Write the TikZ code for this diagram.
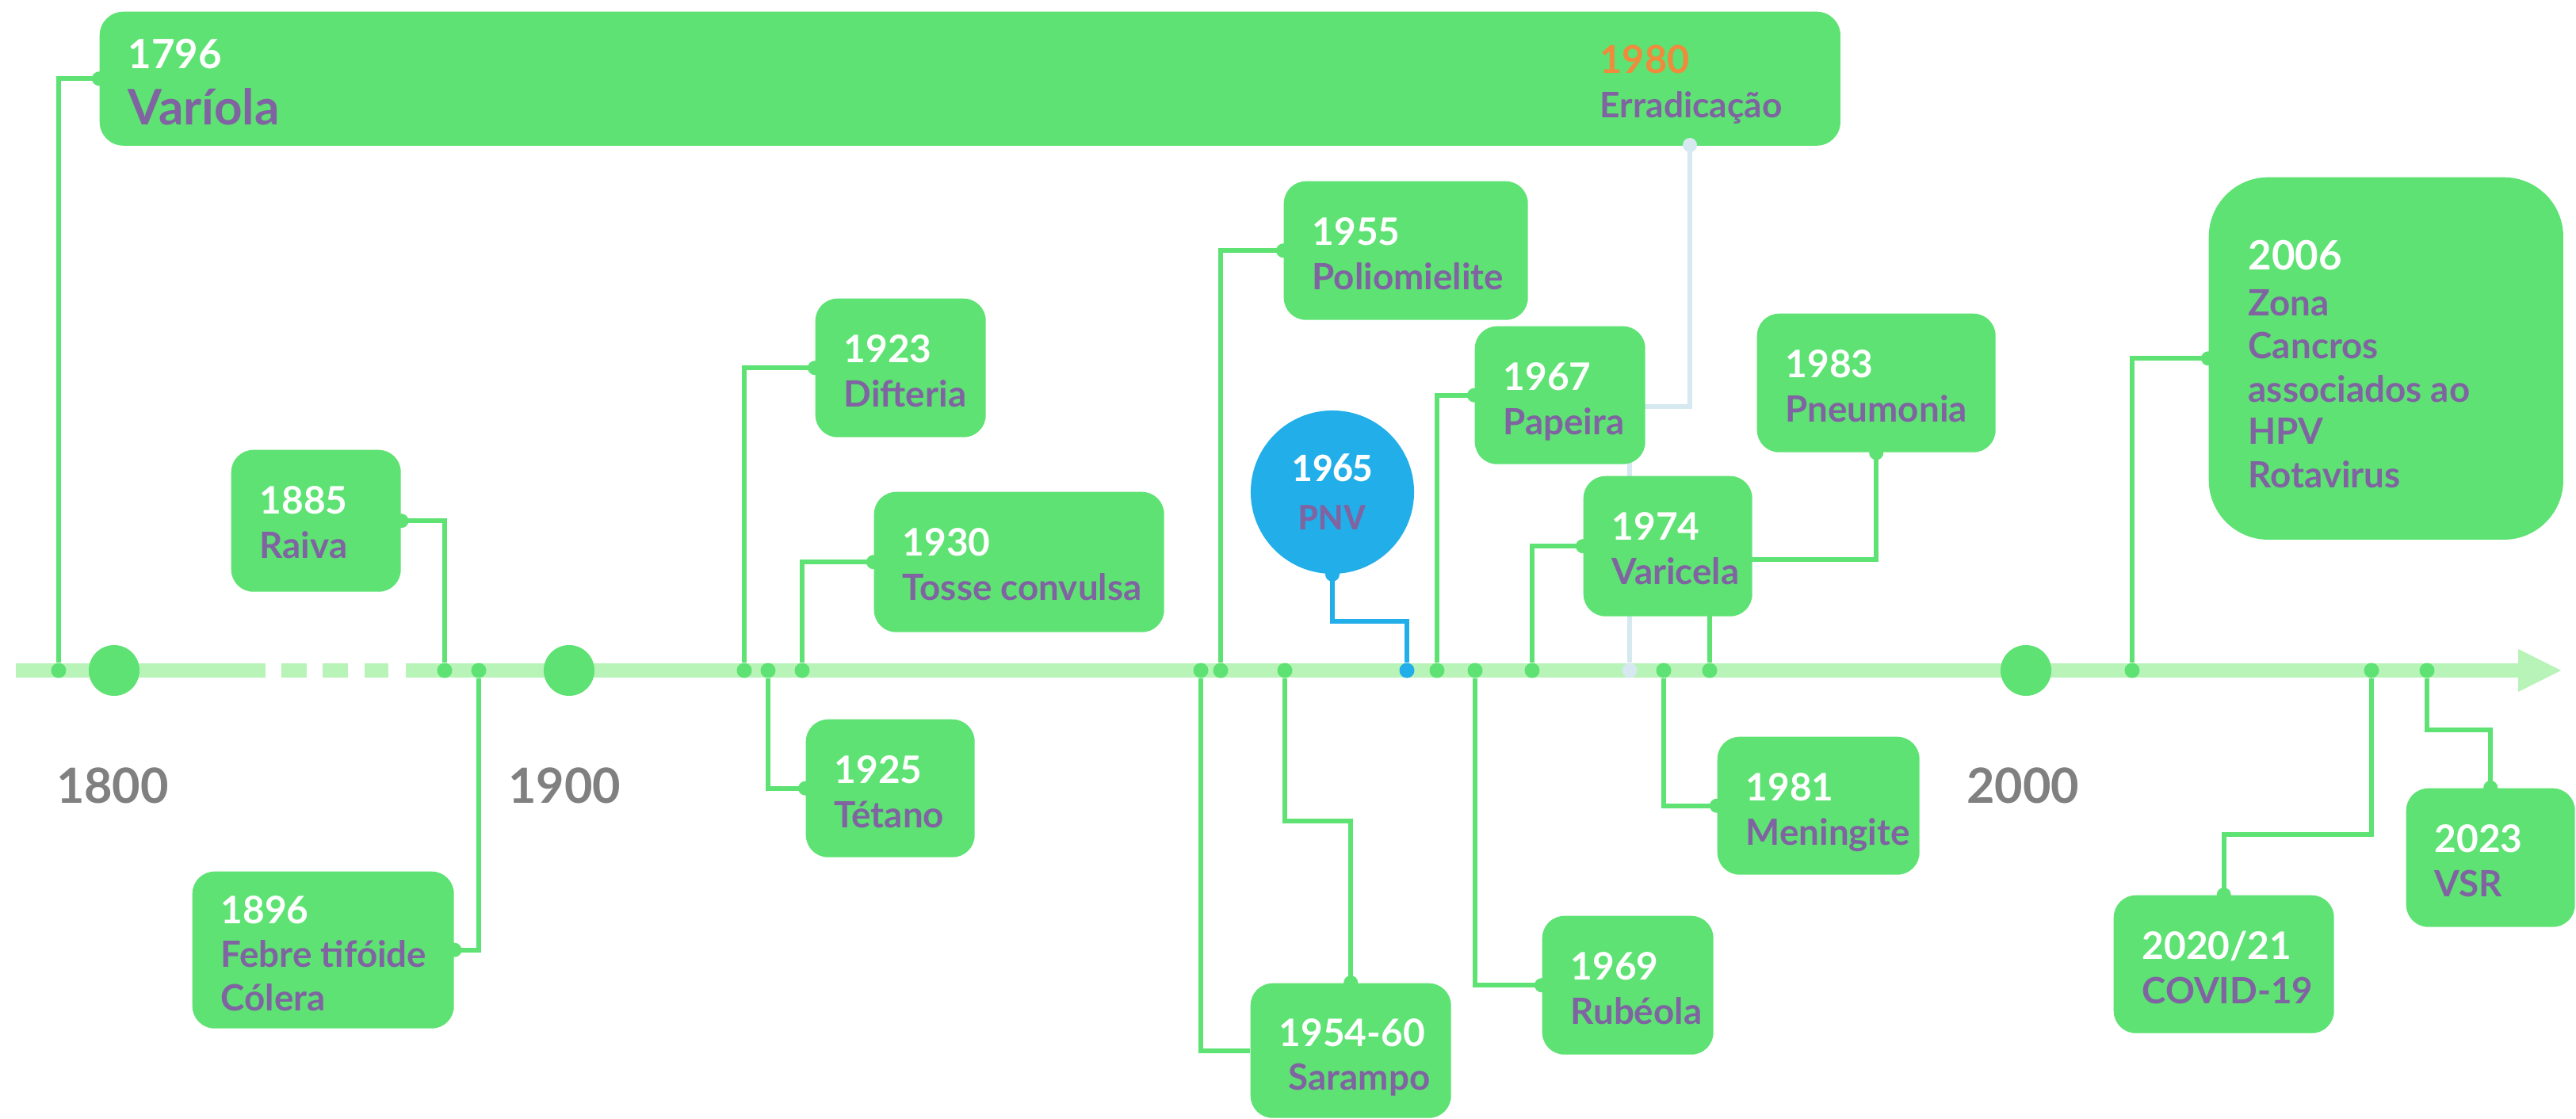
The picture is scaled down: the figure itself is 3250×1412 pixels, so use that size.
\documentclass[tikz,border=0pt]{standalone}
\usepackage{fontspec}
\setmainfont{Lato}
\newfontfamily\carl{Carlito}
\usetikzlibrary{calc}
\definecolor{boxg}{RGB}{94,226,115}
\definecolor{axisg}{RGB}{184,243,184}
\definecolor{purp}{RGB}{128,100,162}
\definecolor{orng}{RGB}{240,138,60}
\definecolor{pnvblue}{RGB}{34,174,232}
\definecolor{lblue}{RGB}{214,232,240}
\definecolor{grayl}{RGB}{128,128,128}
\pgfdeclarelayer{bg}
\pgfdeclarelayer{lines}
\pgfsetlayers{bg,lines,main}
\tikzset{
  evbox/.style={fill=boxg, rounded corners=0.28cm, inner sep=0, draw=none},
  yr/.style={text=white, font=\fontsize{13.6}{16}\selectfont\bfseries, inner sep=0, anchor=base west},
  nm/.style={text=purp, font=\fontsize{13}{15.4}\selectfont\bfseries, inner sep=0, anchor=base west},
  conn/.style={draw=boxg, line width=0.06cm},
  adot/.style={circle, fill=boxg, inner sep=0, minimum size=0.19cm},
  bigdot/.style={circle, fill=boxg, inner sep=0, minimum size=0.64cm},
  axlab/.style={text=grayl, font=\fontsize{17.4}{20}\selectfont\bfseries, inner sep=0, anchor=base},
}
\newcommand\evbox[5]{\node[evbox, minimum width={#4*0.01cm}, minimum height={#5*0.01cm}, anchor=north west] (#1) at (#2,#3) {};}
\newcommand\evtext[3]{%
  \node[yr] (#1y) at ($(#1.north west)+(36,81)$) {#2};
  \node[nm] (#1n) at ($(#1.north west)+(36,137)$) {#3};}
\newcommand\nub[2][boxg]{\fill[#1] (#2) circle[radius=0.09cm];}
\begin{document}
\begin{tikzpicture}[x=0.01cm, y=-0.01cm]
\useasboundingbox (0,0) rectangle (3250,1412);
\begin{pgfonlayer}{bg}
  \fill[white] (0,0) rectangle (3250,1412);
  \draw[axisg, line width=0.18cm] (20,846) -- (335,846) (355,846) -- (387,846)
     (407,846) -- (439,846) (460,846) -- (490,846) (512,846) -- (3178,846);
  \fill[axisg] (3177,819) -- (3231,846) -- (3177,873) -- cycle;
\end{pgfonlayer}

% big century dots and labels
\node[bigdot] (c1800) at (144,846) {};
\node[bigdot] (c1900) at (718,846) {};
\node[bigdot] (c2000) at (2556,846) {};
\node[axlab] (l1800) at (142,1013) {1800};
\node[axlab] (l1900) at (712,1013) {1900};
\node[axlab] (l2000) at (2552,1013) {2000};

% boxes
\node[evbox, rounded corners=0.3cm, minimum width=21.95cm, minimum height=1.69cm, anchor=north west] (top) at (125,14) {};
\evbox{b1885}{291}{567}{214}{179}
\evbox{b1896}{242}{1099}{330}{198}
\evbox{b1923}{1028}{376}{215}{175}
\evbox{b1925}{1016}{907}{213}{174}
\evbox{b1930}{1102}{620}{366}{177}
\evbox{b1955}{1619}{228}{308}{175}
\evbox{b1954}{1577}{1240}{253}{170}
\evbox{b1967}{1860}{411}{215}{174}
\evbox{b1969}{1945}{1155}{216}{175}
\evbox{b1974}{1997}{600}{213}{177}
\evbox{b1981}{2166}{929}{255}{174}
\evbox{b1983}{2216}{395}{301}{175}
\node[evbox, rounded corners=0.75cm, minimum width=4.47cm, minimum height=4.57cm, anchor=north west] (b2006) at (2786,223) {};
\evbox{b2020}{2666}{1129}{278}{174}
\evbox{b2023}{3035}{994}{213}{175}
\node[circle, fill=pnvblue, inner sep=0, minimum size=2.06cm] (pnv) at (1681,621) {};

% axis dots
\node[adot] (d1796) at (74,846) {};
\node[adot] (d1885) at (561,846) {};
\node[adot] (d1896) at (604,846) {};
\node[adot] (d1923) at (939,846) {};
\node[adot] (d1925) at (969,846) {};
\node[adot] (d1930) at (1012,846) {};
\node[adot] (d1954a) at (1515,846) {};
\node[adot] (d1955) at (1540,846) {};
\node[adot] (d1954b) at (1621,846) {};
\node[adot, fill=pnvblue] (d1965) at (1775,846) {};
\node[adot] (d1967) at (1813,846) {};
\node[adot] (d1969) at (1861,846) {};
\node[adot] (d1974) at (1933,846) {};
\node[adot, fill=lblue] (d1980) at (2056,846) {};
\node[adot] (d1981) at (2099,846) {};
\node[adot] (d1983) at (2157,846) {};
\node[adot] (d2006) at (2690,846) {};
\node[adot] (d2020) at (2992,846) {};
\node[adot] (d2023) at (3062,846) {};

% bend points
\coordinate (c1980) at (2132,183);
\coordinate (j1980) at (2132,513);
\coordinate (j1954) at (1621,1036);
\coordinate (j1965) at (1775,784);
\coordinate (j1983) at (2157,706);
\coordinate (j2020) at (2992,1053);
\coordinate (j2023) at (3062,921);

\begin{pgfonlayer}{lines}
  \draw[lblue, line width=0.06cm] (c1980) -- (j1980) -| (d1980);
  \draw[conn] (d1796) |- (top.west);
  \draw[conn] (d1885) |- (b1885.east);
  \draw[conn] (d1896) |- (b1896.east);
  \draw[conn] (d1923) |- (b1923.west);
  \draw[conn] (d1925) |- (b1925.west);
  \draw[conn] (d1930) |- (b1930.west);
  \draw[conn] (d1954a) |- (b1954.west);
  \draw[conn] (d1955) |- (b1955.west);
  \draw[conn] (d1954b) -- (j1954) -| (b1954.north);
  \draw[conn, draw=pnvblue] (d1965) -- (j1965) -| (pnv.south);
  \draw[conn] (d1967) |- (b1967.west);
  \draw[conn] (d1969) |- (b1969.west);
  \draw[conn] (d1974) |- (b1974.west);
  \draw[conn] (d1981) |- (b1981.west);
  \draw[conn] (d1983) -- (j1983) -| (b1983.south);
  \draw[conn] (d2006) |- (b2006.west);
  \draw[conn] (d2020) -- (j2020) -| (b2020.north);
  \draw[conn] (d2023) -- (j2023) -| (b2023.north);
\end{pgfonlayer}

% nubs
\nub[lblue]{c1980}
\nub{top.west}
\nub{b1885.east}
\nub{b1896.east}
\nub{b1923.west}
\nub{b1925.west}
\nub{b1930.west}
\nub{b1955.west}
\nub{b1954.north}
\nub{b1967.west}
\nub{b1969.west}
\nub{b1974.west}
\nub{b1981.west}
\nub{b1983.south}
\nub{b2006.west}
\nub{b2020.north}
\nub{b2023.north}
\nub[pnvblue]{pnv.south}

% texts
\node[yr, font=\fontsize{14.5}{17}\selectfont\bfseries] (t1796) at (161,87) {1796};
\node[nm, font=\fontsize{17.6}{20}\selectfont\bfseries] (n1796) at (161,157) {Varíola};
\node[yr, text=orng, font=\fontsize{13.8}{16}\selectfont\bfseries] (t1980) at (2018,93) {1980};
\node[nm, font=\fontsize{12.6}{15}\selectfont\bfseries] (n1980) at (2018,148) {Erradicação};

\evtext{b1885}{1885}{Raiva}
\node[yr] (t1896) at (278,1165) {1896};
\node[nm] (n1896a) at (278,1220) {Febre tifóide};
\node[nm] (n1896b) at (278,1275) {Cólera};
\evtext{b1923}{1923}{Difteria}
\evtext{b1925}{1925}{Tétano}
\evtext{b1930}{1930}{Tosse convulsa}
\evtext{b1955}{1955}{Poliomielite}
\node[yr] (t1954) at (1613,1320) {1954-60};
\node[nm] (n1954) at (1625,1375) {Sarampo};
\evtext{b1967}{1967}{Papeira}
\evtext{b1969}{1969}{Rubéola}
\evtext{b1974}{1974}{Varicela}
\evtext{b1981}{1981}{Meningite}
\evtext{b1983}{1983}{Pneumonia}
\evtext{b2020}{2020/21}{COVID-19}
\evtext{b2023}{2023}{VSR}

\node[yr, font=\fontsize{14.5}{17}\selectfont\bfseries] (t2006) at (2836,340) {2006};
\node[nm] (n2006a) at (2836,398) {Zona};
\node[nm] (n2006b) at (2836,452) {Cancros};
\node[nm] (n2006c) at (2836,507) {associados ao};
\node[nm] (n2006d) at (2836,560) {HPV};
\node[nm] (n2006e) at (2836,615) {Rotavirus};

\node[text=white, font=\carl\fontsize{14.5}{17}\selectfont\bfseries, inner sep=0, anchor=base] (t1965) at (1681,607) {1965};
\node[text=purp, font=\carl\fontsize{13.5}{16}\selectfont\bfseries, inner sep=0, anchor=base] (n1965) at (1681,668) {PNV};
\end{tikzpicture}
\end{document}
